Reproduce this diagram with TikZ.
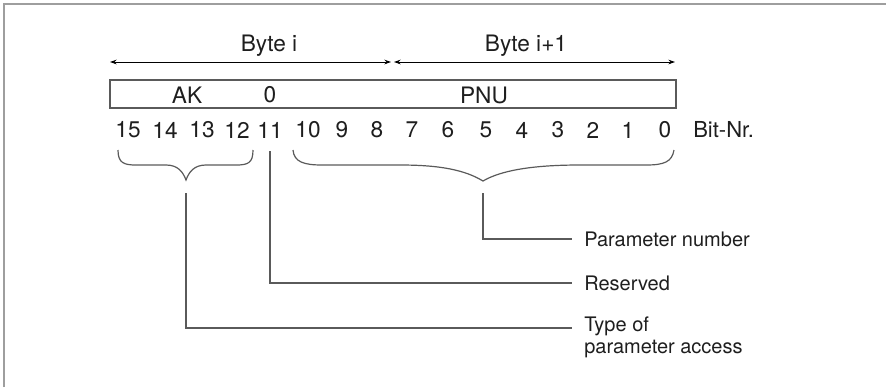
\documentclass[tikz,border=0pt]{standalone}
\usepackage{fontspec}
\setmainfont{TeX Gyre Heros}
\usetikzlibrary{arrows.meta}
\definecolor{framegray}{HTML}{9E9E9E}
\definecolor{linegray}{HTML}{5A5A5A}
\definecolor{txt}{HTML}{1E1E1E}
\tikzset{
  px/.style={x=0.75pt,y=-0.75pt},
  big/.style={font=\fontsize{17}{20}\selectfont, text=txt, inner sep=0pt},
  lbl/.style={font=\fontsize{15}{16.5}\selectfont, text=txt, inner sep=0pt, anchor=west, align=left},
  conn/.style={draw=linegray, line width=1pt},
  bracel/.style={draw=linegray, line width=0.9pt},
  dimarrow/.style={draw=black, line width=0.7pt, {Stealth[length=5pt,width=3.5pt]}-{Stealth[length=5pt,width=3.5pt]}},
  fieldbox/.style={draw=linegray, line width=1pt}
}
\begin{document}
\begin{tikzpicture}[px]
\useasboundingbox (0,0) rectangle (886,387);
% frame (only top and left edges visible)
\draw[framegray, line width=2pt] (4,387) -- (4,4) -- (886,4);

% byte dimension arrows
\coordinate (a0) at (110,62);
\coordinate (a1) at (391,62);
\coordinate (a2) at (394,62);
\coordinate (a3) at (675,62);
\draw[dimarrow] (a0) -- (a1);
\draw[dimarrow] (a2) -- (a3);
\node[big] (bytei) at (269,46) {Byte i};
\node[big] (byteii) at (526,46) {Byte i+1};

% field box
\draw[fieldbox] (110,80) rectangle (676,108);
\node[big] (ak) at (187,95) {AK};
\node[big] (zero) at (270,95) {0};
\node[big] (pnu) at (484,95) {PNU};

% bit numbers
\foreach \n/\x in {15/128,14/165,13/202,12/237,11/270,10/308,9/342,8/377,7/412,6/448,5/486,4/522,3/558,2/593,1/628,0/665}
  \node[big] (b\n) at (\x,130) {\n};
\node[lbl, font=\fontsize{16.5}{18}\selectfont] (bitnr) at (693,130) {Bit-Nr.};

% left brace (bits 15..12)
\coordinate (lbA) at (118,150);
\coordinate (lbB) at (253,150);
\coordinate (lbP) at (186,180);
\draw[bracel] (lbA) .. controls (118,163) and (124,165) .. (136,165)
  -- (166,165) .. controls (178,165) and (183,172) .. (lbP)
  .. controls (189,172) and (194,165) .. (206,165)
  -- (236,165) .. controls (248,165) and (253,163) .. (lbB);

% right brace (bits 10..0)
\coordinate (rbA) at (293,150);
\coordinate (rbB) at (674,150);
\coordinate (rbP) at (483,181);
\draw[bracel] (rbA) .. controls (294,162) and (304,165) .. (322,165)
  -- (400,165) .. controls (440,165) and (465,170) .. (rbP)
  .. controls (500,171) and (530,165) .. (580,165)
  -- (646,165) .. controls (664,165) and (672,162) .. (rbB);

% labels
\node[lbl] (lpn) at (584,239) {Parameter number};
\node[lbl] (lres) at (584,283) {Reserved};
\node[lbl, anchor=north west] (ltype) at (584,317) {Type of\\parameter access};

% connector endpoints
\coordinate (pnTop) at (483,193);
\coordinate (resTop) at (270,151);
\coordinate (akTop) at (186,193);
\coordinate (pnEnd) at (572,239);
\coordinate (resEnd) at (572,283);
\coordinate (typeEnd) at (572,328);
\draw[conn] (pnTop) |- (pnEnd);
\draw[conn] (resTop) |- (resEnd);
\draw[conn] (akTop) |- (typeEnd);
\end{tikzpicture}
\end{document}
